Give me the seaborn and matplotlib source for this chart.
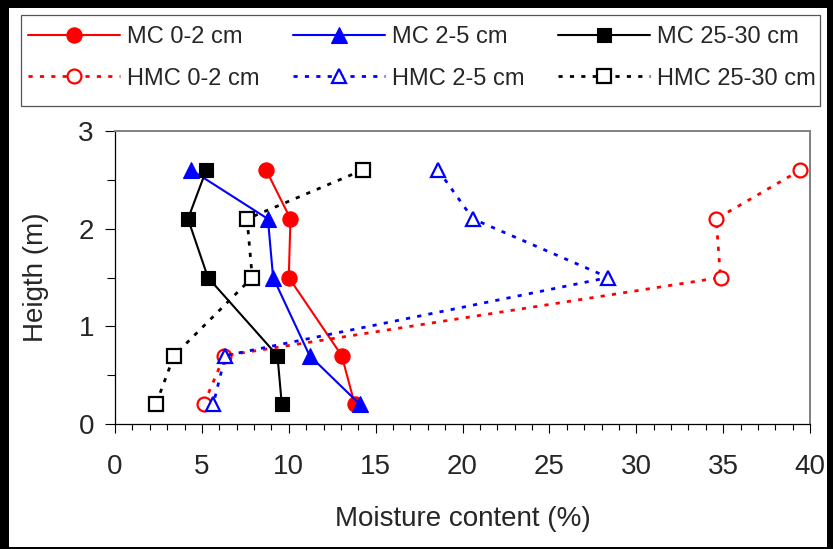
import matplotlib
matplotlib.use("Agg")
import matplotlib.pyplot as plt
import seaborn as sns
from matplotlib.patches import Rectangle
from matplotlib.ticker import MultipleLocator

# ---- data ----
heights = [2.6, 2.1, 1.5, 0.7, 0.2]
mc_0_2 = [8.7, 10.1, 10.0, 13.05, 13.8]
mc_2_5 = [4.4, 8.8, 9.1, 11.2, 14.1]
mc_25_30 = [5.25, 4.2, 5.35, 9.35, 9.6]
hmc_0_2 = [39.45, 34.6, 34.85, 6.3, 5.1]
hmc_2_5 = [18.6, 20.6, 28.4, 6.35, 5.65]
hmc_25_30 = [14.25, 7.6, 7.9, 3.4, 2.35]

series_labels = ["MC 0-2 cm", "MC 2-5 cm", "MC 25-30 cm",
                 "HMC 0-2 cm", "HMC 2-5 cm", "HMC 25-30 cm"]
series_values = [mc_0_2, mc_2_5, mc_25_30, hmc_0_2, hmc_2_5, hmc_25_30]
x_ticks = [0, 5, 10, 15, 20, 25, 30, 35, 40]
y_ticks = [0, 1, 2, 3]
x_label = "Moisture content (%)"
y_label = "Heigth (m)"

# ---- styles ----
sns.set_style("white")
plt.rcParams["font.family"] = ["Liberation Sans", "DejaVu Sans"]

colors = ["#FF0000", "#0000FF", "#000000"] * 2
markers = ["o", "^", "s"] * 2
msizes = [11, 11.5, 10.5, 10, 10.5, 10]
filled = [True] * 3 + [False] * 3
dotted = (0, (1.5, 2.6))

W, H = 833, 549
fig = plt.figure(figsize=(W / 100, H / 100), dpi=100)
ax = fig.add_axes([115 / W, 125 / H, 695 / W, 293 / H])

for i, (lab, vals) in enumerate(zip(series_labels, series_values)):
    is_f = filled[i]
    sns.lineplot(x=vals, y=heights, orient="y", sort=False, estimator=None, ax=ax,
                 legend=False,
                 color=colors[i], marker=markers[i], markersize=msizes[i],
                 mfc=colors[i] if is_f else "white", mec=colors[i],
                 mew=0.8 if is_f else 1.6,
                 linewidth=1.5 if is_f else 2.0,
                 linestyle="-" if is_f else dotted,
                 label=lab)
if ax.get_legend() is not None:
    ax.get_legend().remove()

ax.set_xlim(0, 40)
ax.set_ylim(0, 3)
ax.set_xticks(x_ticks)
ax.set_yticks(y_ticks)
ax.xaxis.set_minor_locator(MultipleLocator(1))
ax.yaxis.set_minor_locator(MultipleLocator(0.5))
ax.tick_params(axis="both", which="both", direction="out", color="black", width=0.8)
ax.tick_params(axis="x", which="major", length=6.5, pad=15, labelsize=20)
ax.tick_params(axis="x", which="minor", length=4.2)
ax.tick_params(axis="y", which="major", length=7.2, pad=8, labelsize=20)
ax.tick_params(axis="y", which="minor", length=5.5)
ax.xaxis.set_ticks_position("bottom")
ax.yaxis.set_ticks_position("left")

for side in ["left", "bottom"]:
    ax.spines[side].set_color("black")
    ax.spines[side].set_linewidth(0.9)
for side in ["top", "right"]:
    ax.spines[side].set_color("#808080")
    ax.spines[side].set_linewidth(1.4)

ax.set_xlabel(x_label, fontsize=20, labelpad=18.5)
ax.set_ylabel(y_label, fontsize=20, labelpad=21)

handles, labels = ax.get_legend_handles_labels()
order = [0, 3, 1, 4, 2, 5]
leg = fig.legend([handles[k] for k in order], [labels[k] for k in order],
                 loc="upper left", bbox_to_anchor=(21 / W, 1 - 19 / H),
                 bbox_transform=fig.transFigure, ncol=3, fontsize=17,
                 handlelength=3.9, handletextpad=0.3, columnspacing=1.4,
                 labelspacing=0.83, borderpad=0.3, borderaxespad=0,
                 frameon=False, numpoints=1)

# legend box
fig.add_artist(Rectangle((21 / W, 1 - 106 / H), (820 - 21) / W, (106 - 15) / H,
                         transform=fig.transFigure, facecolor="none",
                         edgecolor="#555555", linewidth=0.9, zorder=5))

# black outer frame of the picture
for (x0, y0, w, h) in [(0, H - 8, W, 8), (0, 0, 9, H), (W - 6, 0, 6, H), (0, 0, W, 2)]:
    fig.add_artist(Rectangle((x0 / W, y0 / H), w / W, h / H, transform=fig.transFigure,
                             facecolor="black", edgecolor="none", zorder=20))

fig.savefig("out.png", dpi=100, facecolor="white")
